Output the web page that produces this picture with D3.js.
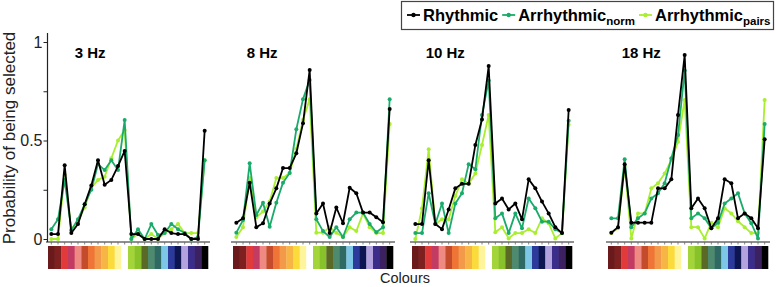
<!DOCTYPE html>
<html>
<head>
<meta charset="utf-8">
<script src="https://cdn.jsdelivr.net/npm/d3@7"></script>
<style>
  body { margin: 0; background: #fff; }
  svg { display: block; font-family: "Liberation Sans", Arial, sans-serif; }
</style>
</head>
<body>
<div id="chart"></div>
<script>
// colour swatches shown under each panel (11 warm, white, 12 cool)
const swatchColours = [
  '#6b1a1c', '#7e2020', '#e03a3a', '#c23b63', '#ee8a82', '#c44c2c',
  '#ee7536', '#f2994a', '#f6b544', '#fbdb3b', '#fdf49c', '#ffffff',
  '#a3d53a', '#88c22a', '#5a6a26', '#4e8a6e', '#2f6963', '#7dc6e6',
  '#2b3a9b', '#0d1650', '#b2a3df', '#3a2e8a', '#3c2160', '#000000'
];
const categories = d3.range(swatchColours.length);

const panelLabels = ['3 Hz', '8 Hz', '10 Hz', '18 Hz'];
const seriesNames = ['Rhythmic', 'Arrhythmic', 'Arrhythmic'];
const seriesSubs = ['', 'norm', 'pairs'];
const yTicks = [0, 0.25, 0.5, 0.75, 1];

const rhythmic3 = [0.025, 0.025, 0.375, 0.03, 0.076, 0.176, 0.272, 0.40, 0.275, 0.30, 0.37, 0.447,
  0.025, 0.025, 0, 0, 0, 0.05, 0.03, 0.025, 0.025, 0, 0, 0.55];
const norm3 = [0.05, 0.10, 0.30, 0.045, 0.10, 0.176, 0.25, 0.38, 0.35, 0.40, 0.35, 0.604,
  0, 0.05, 0, 0.076, 0.02, 0.03, 0.076, 0.05, 0.03, 0, 0.01, 0.40];
const pairs3 = [0, 0, 0.325, 0.05, 0.09, 0.16, 0.26, 0.30, 0.316, 0.41, 0.50, 0.553,
  0, 0.025, 0, 0.025, 0, 0.03, 0.05, 0.076, 0.03, 0.03, 0.03, 0.40];

const rhythmic8 = [0.083, 0.105, 0.286, 0.06, 0.08, 0.18, 0.257, 0.36, 0.36, 0.435, 0.587, 0.858,
  0.13, 0.18, 0.03, 0.16, 0.08, 0.26, 0.232, 0.134, 0.134, 0.11, 0.085, 0.66];
const norm8 = [0.032, 0.096, 0.384, 0.122, 0.184, 0.062, 0.184, 0.286, 0.335, 0.557, 0.71, 0.807,
  0.10, 0.04, 0.01, 0.06, 0.01, 0.10, 0.134, 0.134, 0.076, 0.034, 0.06, 0.71];
const pairs8 = [0.01, 0.06, 0.31, 0.11, 0.14, 0.19, 0.31, 0.31, 0.335, 0.457, 0.604, 0.71,
  0.032, 0.032, 0.06, 0.032, 0.01, 0.06, 0.04, 0.13, 0.06, 0.03, 0.03, 0.584];

const rhythmic10 = [0.076, 0.076, 0.40, 0.076, 0.05, 0.15, 0.257, 0.28, 0.28, 0.477, 0.607, 0.878,
  0.18, 0.206, 0.15, 0.18, 0.10, 0.303, 0.257, 0.19, 0.13, 0.06, 0.03, 0.655];
const norm10 = [0.03, 0.03, 0.232, 0.076, 0.18, 0.03, 0.18, 0.232, 0.38, 0.354, 0.63, 0.804,
  0.105, 0.13, 0.03, 0.13, 0.054, 0.206, 0.156, 0.088, 0.088, 0.05, 0.03, 0.60];
const pairs10 = [0, 0.156, 0.455, 0.076, 0.10, 0.10, 0.218, 0.303, 0.28, 0.333, 0.477, 0.63,
  0.034, 0.06, 0.003, 0.03, 0.03, 0.05, 0.03, 0.105, 0.08, 0.003, 0.03, 0.58];

const rhythmic18 = [0.032, 0.06, 0.38, 0.083, 0.083, 0.083, 0.083, 0.257, 0.257, 0.303, 0.63, 0.934,
  0.156, 0.206, 0.156, 0.054, 0.105, 0.303, 0.283, 0.105, 0.13, 0.105, 0.054, 0.506];
const norm18 = [0.105, 0.105, 0.405, 0.06, 0.105, 0.13, 0.206, 0.232, 0.283, 0.41, 0.528, 0.855,
  0.105, 0.13, 0.105, 0.054, 0.083, 0.18, 0.206, 0.232, 0.13, 0.08, 0.003, 0.584];
const pairs18 = [0.03, 0.054, 0.37, 0.003, 0.13, 0.13, 0.257, 0.283, 0.333, 0.40, 0.494, 0.706,
  0.06, 0.06, 0.003, 0.083, 0.06, 0.156, 0.13, 0.09, 0.06, 0.03, 0.03, 0.706];

const panels = [
  [rhythmic3, norm3, pairs3],
  [rhythmic8, norm8, pairs8],
  [rhythmic10, norm10, pairs10],
  [rhythmic18, norm18, pairs18]
];

const colours = ['#000000', '#1aab6b', '#a9ee2f'];

const width = 776, height = 287;
const panelLeft = [48, 233, 412, 608];
const bandWidth = 160 / 24;
const plotWidth = bandWidth * categories.length;

const svg = d3.select('#chart').append('svg')
  .attr('width', width)
  .attr('height', height);

const y = d3.scaleLinear().domain([0, 1]).range([239, 42]);
const axisY = 242;

panels.forEach((series, p) => {
  const x0 = panelLeft[p];
  const x = d3.scaleBand().domain(categories).range([x0, x0 + plotWidth]);
  const g = svg.append('g');

  // colour strip
  g.selectAll('rect.swatch')
    .data(categories)
    .join('rect')
    .attr('class', 'swatch')
    .attr('x', d => x(d))
    .attr('y', 246)
    .attr('width', x.bandwidth() + 0.3)
    .attr('height', 23)
    .attr('fill', d => swatchColours[d]);

  // x axis with small ticks
  const xAxis = d3.axisBottom(x).tickSize(2.5).tickFormat('');
  g.append('g')
    .attr('transform', `translate(0,${axisY})`)
    .call(xAxis)
    .call(a => {
      a.select('.domain')
        .attr('d', `M${x0 - 2},0H${x0 + plotWidth + 2}`)
        .attr('stroke', '#222')
        .attr('stroke-width', 1.2);
      a.selectAll('.tick line').attr('stroke', '#666').attr('stroke-width', 0.8);
    });

  if (p === 0) {
    const yAxis = d3.axisLeft(y)
      .tickValues(yTicks)
      .tickSize(4)
      .tickFormat(d => (d === 0 || d === 0.5 || d === 1) ? d3.format('')(d) : '');
    g.append('g')
      .attr('transform', `translate(${x0 - 0.5},0)`)
      .call(yAxis)
      .call(a => {
        a.select('.domain')
          .attr('d', `M0,33V${axisY}`)
          .attr('stroke', '#222')
          .attr('stroke-width', 1.2);
        a.selectAll('.tick line').attr('stroke', '#222');
        a.selectAll('.tick text')
          .attr('font-size', '16px')
          .attr('fill', '#222')
          .attr('x', -5)
          .attr('font-family', '"Liberation Sans", Arial, sans-serif');
      });
  }

  // panel title
  g.append('text')
    .attr('x', x(1) + (p === 0 ? 20 : 7))
    .attr('y', 58)
    .attr('font-size', '15px')
    .attr('font-weight', 'bold')
    .text(panelLabels[p]);

  const line = d3.line()
    .x((d, i) => x(categories[i]) + x.bandwidth() / 2)
    .y(d => y(d));

  // draw pairs first, rhythmic on top
  [2, 1, 0].forEach(s => {
    const vals = series[s];
    g.append('path')
      .datum(vals)
      .attr('d', line)
      .attr('fill', 'none')
      .attr('stroke', colours[s])
      .attr('stroke-width', 1.8)
      .attr('stroke-linejoin', 'round');
    g.selectAll(`circle.s${s}`)
      .data(vals)
      .join('circle')
      .attr('class', `s${s}`)
      .attr('cx', (d, i) => x(categories[i]) + x.bandwidth() / 2)
      .attr('cy', d => y(d))
      .attr('r', 2)
      .attr('fill', colours[s]);
  });
});

// axis titles
svg.append('text')
  .attr('transform', 'translate(15,138) rotate(-90)')
  .attr('text-anchor', 'middle')
  .attr('font-size', '17px')
  .attr('fill', '#222')
  .text('Probability of being selected');

svg.append('text')
  .attr('x', 405)
  .attr('y', 283)
  .attr('text-anchor', 'middle')
  .attr('font-size', '14.5px')
  .attr('fill', '#222')
  .text('Colours');

// legend
const legend = svg.append('g');
legend.append('rect')
  .attr('x', 401.5)
  .attr('y', 1.5)
  .attr('width', 372)
  .attr('height', 28)
  .attr('fill', '#fff')
  .attr('stroke', '#444')
  .attr('stroke-width', 1.2);

let lx = 407;
seriesNames.forEach((name, s) => {
  legend.append('line')
    .attr('x1', lx).attr('x2', lx + 13)
    .attr('y1', 15).attr('y2', 15)
    .attr('stroke', colours[s])
    .attr('stroke-width', 1.8);
  legend.append('circle')
    .attr('cx', lx + 6.5).attr('cy', 15).attr('r', 2.2)
    .attr('fill', colours[s]);
  const t = legend.append('text')
    .attr('x', lx + 16)
    .attr('y', 21)
    .attr('font-size', '16.5px')
    .attr('font-weight', 'bold')
    .text(name);
  if (seriesSubs[s]) {
    t.append('tspan')
      .attr('font-size', '11.5px')
      .attr('dy', 4)
      .text(seriesSubs[s]);
  }
  lx += 16 + t.node().getComputedTextLength() + 4;
});
</script>
</body>
</html>
